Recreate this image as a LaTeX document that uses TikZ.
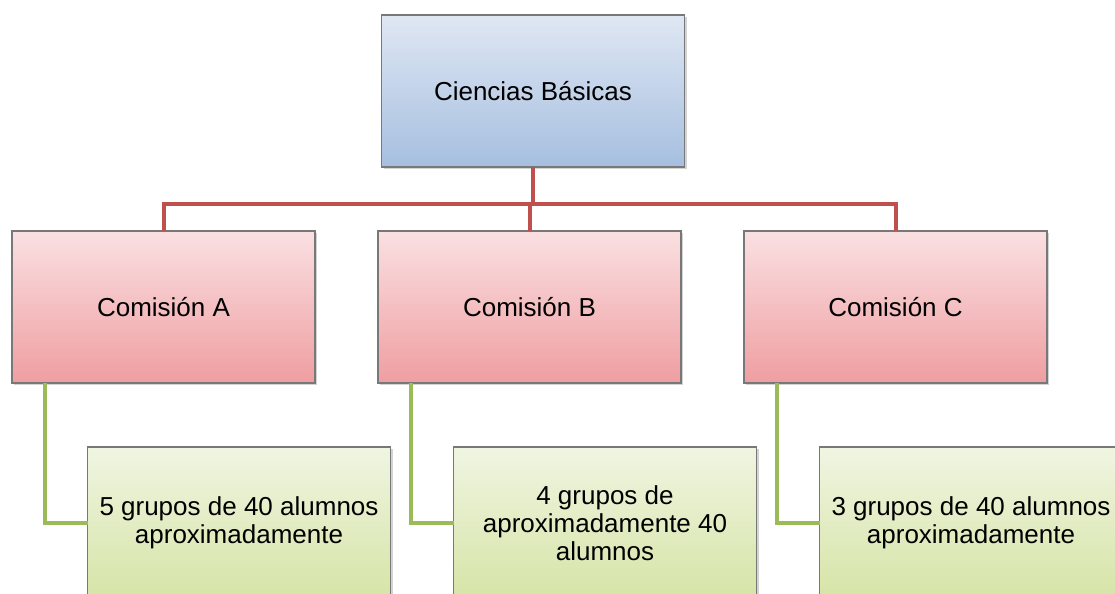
\documentclass[tikz,border=0pt]{standalone}
\usepackage{fontspec}
\setmainfont{Liberation Sans}
\usetikzlibrary{positioning,shadows}

\definecolor{azularriba}{RGB}{223,231,243}
\definecolor{azulabajo}{RGB}{166,191,224}
\definecolor{rojoarriba}{RGB}{250,224,226}
\definecolor{rojoabajo}{RGB}{239,158,161}
\definecolor{verdearriba}{RGB}{240,245,226}
\definecolor{verdeabajo}{RGB}{214,228,166}
\definecolor{borde}{RGB}{120,120,120}
\definecolor{lineroja}{RGB}{192,80,77}
\definecolor{lineverde}{RGB}{155,187,89}

\tikzstyle{caja} = [rectangle, minimum width=151.5pt, minimum height=76pt, text centered, align=center, outer sep=0pt, draw=borde, line width=0.6pt, drop shadow={shadow xshift=1pt, shadow yshift=-1pt, opacity=0.35}, font=\fontsize{13}{14}\selectfont]
\tikzstyle{raiz} = [caja, top color=azularriba, bottom color=azulabajo]
\tikzstyle{com} = [caja, top color=rojoarriba, bottom color=rojoabajo]
\tikzstyle{gru} = [caja, top color=verdearriba, bottom color=verdeabajo]
\tikzstyle{rama} = [draw=lineroja, line width=2pt]
\tikzstyle{hoja} = [draw=lineverde, line width=1.6pt]

\begin{document}
\begin{tikzpicture}[x=0.5pt,y=-0.5pt]
        \useasboundingbox (0,0) rectangle (1115,594);
        \clip (0,0) rectangle (1115,594);
        \node[raiz] (cien) at (533,91) {Ciencias Básicas};
        \node[com] (comB) [below=32pt of cien, xshift=-1.75pt] {Comisión B};
        \node[com] (comA) [left=31.5pt of comB] {Comisión A};
        \node[com] (comC) [right=31.5pt of comB] {Comisión C};
        \node[gru] (grA) [below=32pt of comA, xshift=37.75pt] {5 grupos de 40 alumnos\\aproximadamente};
        \node[gru] (grB) [below=32pt of comB, xshift=37.75pt] {4 grupos de\\aproximadamente 40\\alumnos};
        \node[gru] (grC) [below=32pt of comC, xshift=37.75pt] {3 grupos de 40 alumnos\\aproximadamente};
        \draw[rama] (cien.south) -- ++(0,-18.5pt) -| (comA.north);
        \draw[rama] (cien.south) -- ++(0,-18.5pt) -| (comB.north);
        \draw[rama] (cien.south) -- ++(0,-18.5pt) -| (comC.north);
        \draw[hoja] ([xshift=16.5pt]comA.south west) |- (grA.west);
        \draw[hoja] ([xshift=16.5pt]comB.south west) |- (grB.west);
        \draw[hoja] ([xshift=16.5pt]comC.south west) |- (grC.west);
    \end{tikzpicture}
\end{document}
